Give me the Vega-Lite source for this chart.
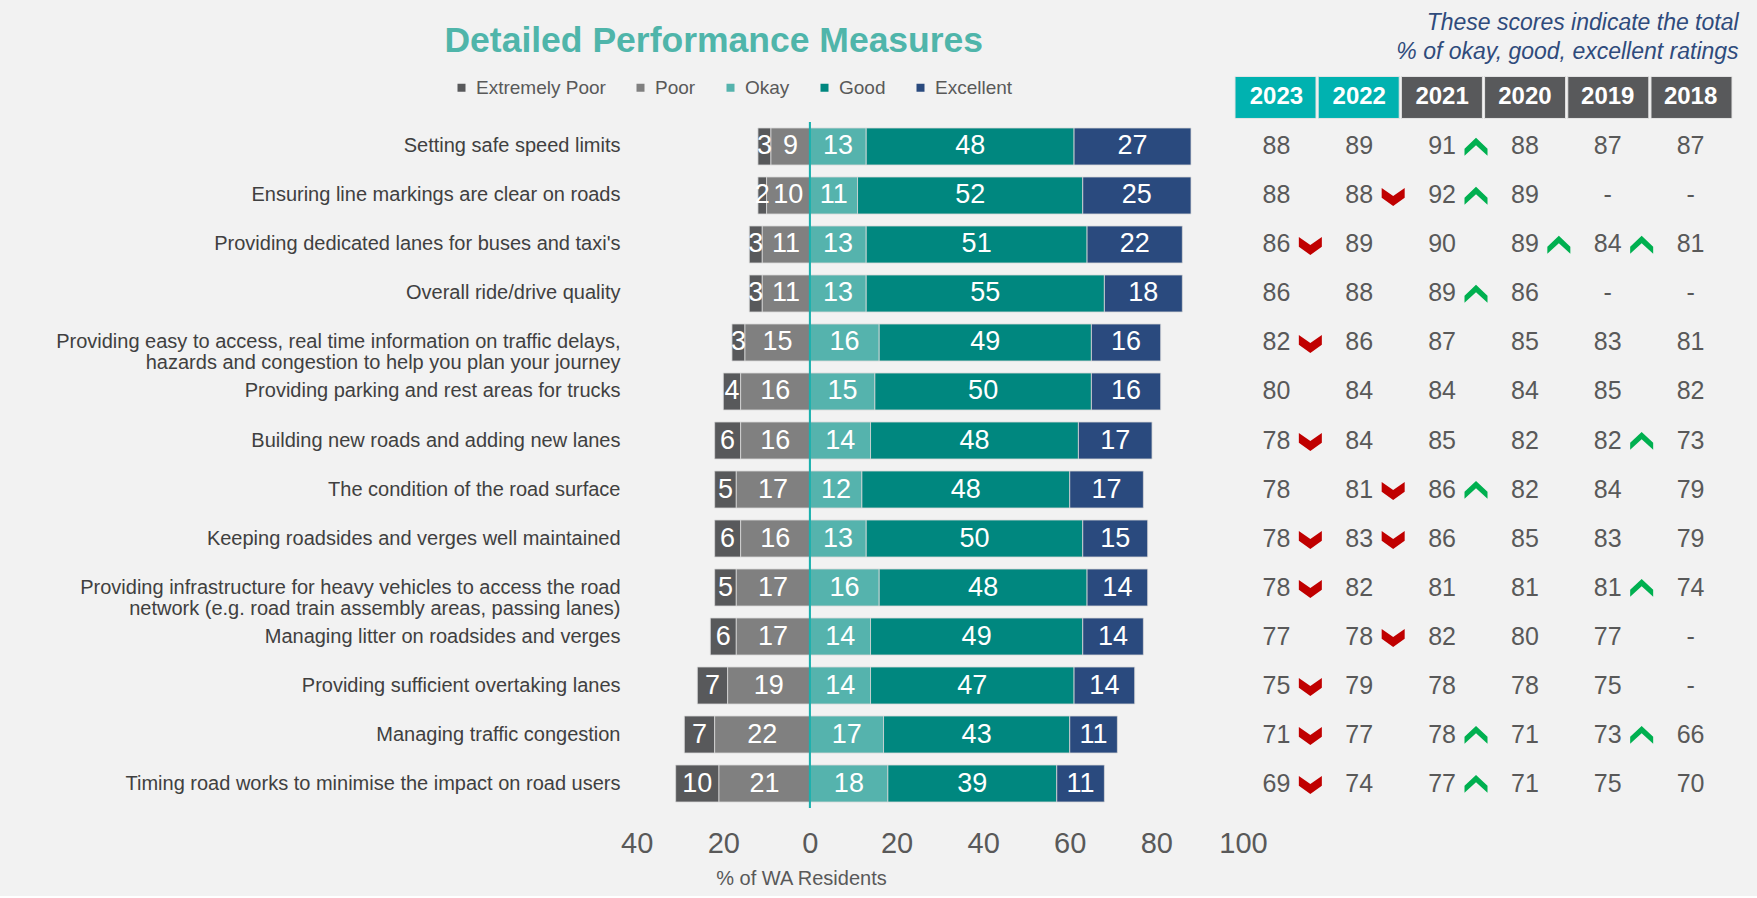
{
  "$schema": "https://vega.github.io/schema/vega-lite/v6.json",
  "width": 1132,
  "height": 832,
  "padding": {"left": 0, "top": 0, "right": 0, "bottom": 8},
  "background": "#F2F2F2",
  "config": {"font": "Liberation Sans", "view": {"stroke": null}, "axis": {"grid": false}},
  "datasets": {
    "items": [
      {"id": "A", "item": "Setting safe speed limits"},
      {"id": "B", "item": "Ensuring line markings are clear on roads"},
      {"id": "C", "item": "Providing dedicated lanes for buses and taxi's"},
      {"id": "D", "item": "Overall ride/drive quality"},
      {"id": "E", "item": "Providing easy to access, real time information on traffic delays,\nhazards and congestion to help you plan your journey"},
      {"id": "F", "item": "Providing parking and rest areas for trucks"},
      {"id": "G", "item": "Building new roads and adding new lanes"},
      {"id": "H", "item": "The condition of the road surface"},
      {"id": "I", "item": "Keeping roadsides and verges well maintained"},
      {"id": "J", "item": "Providing infrastructure for heavy vehicles to access the road\nnetwork (e.g. road train assembly areas, passing lanes)"},
      {"id": "K", "item": "Managing litter on roadsides and verges"},
      {"id": "L", "item": "Providing sufficient overtaking lanes"},
      {"id": "M", "item": "Managing traffic congestion"},
      {"id": "N", "item": "Timing road works to minimise the impact on road users"}
    ],
    "bars": [
      {"id": "A", "level": "Extremely Poor", "pct": -3}, {"id": "A", "level": "Poor", "pct": -9}, {"id": "A", "level": "Okay", "pct": 13}, {"id": "A", "level": "Good", "pct": 48}, {"id": "A", "level": "Excellent", "pct": 27},
      {"id": "B", "level": "Extremely Poor", "pct": -2}, {"id": "B", "level": "Poor", "pct": -10}, {"id": "B", "level": "Okay", "pct": 11}, {"id": "B", "level": "Good", "pct": 52}, {"id": "B", "level": "Excellent", "pct": 25},
      {"id": "C", "level": "Extremely Poor", "pct": -3}, {"id": "C", "level": "Poor", "pct": -11}, {"id": "C", "level": "Okay", "pct": 13}, {"id": "C", "level": "Good", "pct": 51}, {"id": "C", "level": "Excellent", "pct": 22},
      {"id": "D", "level": "Extremely Poor", "pct": -3}, {"id": "D", "level": "Poor", "pct": -11}, {"id": "D", "level": "Okay", "pct": 13}, {"id": "D", "level": "Good", "pct": 55}, {"id": "D", "level": "Excellent", "pct": 18},
      {"id": "E", "level": "Extremely Poor", "pct": -3}, {"id": "E", "level": "Poor", "pct": -15}, {"id": "E", "level": "Okay", "pct": 16}, {"id": "E", "level": "Good", "pct": 49}, {"id": "E", "level": "Excellent", "pct": 16},
      {"id": "F", "level": "Extremely Poor", "pct": -4}, {"id": "F", "level": "Poor", "pct": -16}, {"id": "F", "level": "Okay", "pct": 15}, {"id": "F", "level": "Good", "pct": 50}, {"id": "F", "level": "Excellent", "pct": 16},
      {"id": "G", "level": "Extremely Poor", "pct": -6}, {"id": "G", "level": "Poor", "pct": -16}, {"id": "G", "level": "Okay", "pct": 14}, {"id": "G", "level": "Good", "pct": 48}, {"id": "G", "level": "Excellent", "pct": 17},
      {"id": "H", "level": "Extremely Poor", "pct": -5}, {"id": "H", "level": "Poor", "pct": -17}, {"id": "H", "level": "Okay", "pct": 12}, {"id": "H", "level": "Good", "pct": 48}, {"id": "H", "level": "Excellent", "pct": 17},
      {"id": "I", "level": "Extremely Poor", "pct": -6}, {"id": "I", "level": "Poor", "pct": -16}, {"id": "I", "level": "Okay", "pct": 13}, {"id": "I", "level": "Good", "pct": 50}, {"id": "I", "level": "Excellent", "pct": 15},
      {"id": "J", "level": "Extremely Poor", "pct": -5}, {"id": "J", "level": "Poor", "pct": -17}, {"id": "J", "level": "Okay", "pct": 16}, {"id": "J", "level": "Good", "pct": 48}, {"id": "J", "level": "Excellent", "pct": 14},
      {"id": "K", "level": "Extremely Poor", "pct": -6}, {"id": "K", "level": "Poor", "pct": -17}, {"id": "K", "level": "Okay", "pct": 14}, {"id": "K", "level": "Good", "pct": 49}, {"id": "K", "level": "Excellent", "pct": 14},
      {"id": "L", "level": "Extremely Poor", "pct": -7}, {"id": "L", "level": "Poor", "pct": -19}, {"id": "L", "level": "Okay", "pct": 14}, {"id": "L", "level": "Good", "pct": 47}, {"id": "L", "level": "Excellent", "pct": 14},
      {"id": "M", "level": "Extremely Poor", "pct": -7}, {"id": "M", "level": "Poor", "pct": -22}, {"id": "M", "level": "Okay", "pct": 17}, {"id": "M", "level": "Good", "pct": 43}, {"id": "M", "level": "Excellent", "pct": 11},
      {"id": "N", "level": "Extremely Poor", "pct": -10}, {"id": "N", "level": "Poor", "pct": -21}, {"id": "N", "level": "Okay", "pct": 18}, {"id": "N", "level": "Good", "pct": 39}, {"id": "N", "level": "Excellent", "pct": 11}
    ],
    "table": [
      {"id": "A", "year": 2023, "score": 88}, {"id": "A", "year": 2022, "score": 89}, {"id": "A", "year": 2021, "score": 91, "trend": "up"}, {"id": "A", "year": 2020, "score": 88}, {"id": "A", "year": 2019, "score": 87}, {"id": "A", "year": 2018, "score": 87},
      {"id": "B", "year": 2023, "score": 88}, {"id": "B", "year": 2022, "score": 88, "trend": "down"}, {"id": "B", "year": 2021, "score": 92, "trend": "up"}, {"id": "B", "year": 2020, "score": 89}, {"id": "B", "year": 2019, "score": "-"}, {"id": "B", "year": 2018, "score": "-"},
      {"id": "C", "year": 2023, "score": 86, "trend": "down"}, {"id": "C", "year": 2022, "score": 89}, {"id": "C", "year": 2021, "score": 90}, {"id": "C", "year": 2020, "score": 89, "trend": "up"}, {"id": "C", "year": 2019, "score": 84, "trend": "up"}, {"id": "C", "year": 2018, "score": 81},
      {"id": "D", "year": 2023, "score": 86}, {"id": "D", "year": 2022, "score": 88}, {"id": "D", "year": 2021, "score": 89, "trend": "up"}, {"id": "D", "year": 2020, "score": 86}, {"id": "D", "year": 2019, "score": "-"}, {"id": "D", "year": 2018, "score": "-"},
      {"id": "E", "year": 2023, "score": 82, "trend": "down"}, {"id": "E", "year": 2022, "score": 86}, {"id": "E", "year": 2021, "score": 87}, {"id": "E", "year": 2020, "score": 85}, {"id": "E", "year": 2019, "score": 83}, {"id": "E", "year": 2018, "score": 81},
      {"id": "F", "year": 2023, "score": 80}, {"id": "F", "year": 2022, "score": 84}, {"id": "F", "year": 2021, "score": 84}, {"id": "F", "year": 2020, "score": 84}, {"id": "F", "year": 2019, "score": 85}, {"id": "F", "year": 2018, "score": 82},
      {"id": "G", "year": 2023, "score": 78, "trend": "down"}, {"id": "G", "year": 2022, "score": 84}, {"id": "G", "year": 2021, "score": 85}, {"id": "G", "year": 2020, "score": 82}, {"id": "G", "year": 2019, "score": 82, "trend": "up"}, {"id": "G", "year": 2018, "score": 73},
      {"id": "H", "year": 2023, "score": 78}, {"id": "H", "year": 2022, "score": 81, "trend": "down"}, {"id": "H", "year": 2021, "score": 86, "trend": "up"}, {"id": "H", "year": 2020, "score": 82}, {"id": "H", "year": 2019, "score": 84}, {"id": "H", "year": 2018, "score": 79},
      {"id": "I", "year": 2023, "score": 78, "trend": "down"}, {"id": "I", "year": 2022, "score": 83, "trend": "down"}, {"id": "I", "year": 2021, "score": 86}, {"id": "I", "year": 2020, "score": 85}, {"id": "I", "year": 2019, "score": 83}, {"id": "I", "year": 2018, "score": 79},
      {"id": "J", "year": 2023, "score": 78, "trend": "down"}, {"id": "J", "year": 2022, "score": 82}, {"id": "J", "year": 2021, "score": 81}, {"id": "J", "year": 2020, "score": 81}, {"id": "J", "year": 2019, "score": 81, "trend": "up"}, {"id": "J", "year": 2018, "score": 74},
      {"id": "K", "year": 2023, "score": 77}, {"id": "K", "year": 2022, "score": 78, "trend": "down"}, {"id": "K", "year": 2021, "score": 82}, {"id": "K", "year": 2020, "score": 80}, {"id": "K", "year": 2019, "score": 77}, {"id": "K", "year": 2018, "score": "-"},
      {"id": "L", "year": 2023, "score": 75, "trend": "down"}, {"id": "L", "year": 2022, "score": 79}, {"id": "L", "year": 2021, "score": 78}, {"id": "L", "year": 2020, "score": 78}, {"id": "L", "year": 2019, "score": 75}, {"id": "L", "year": 2018, "score": "-"},
      {"id": "M", "year": 2023, "score": 71, "trend": "down"}, {"id": "M", "year": 2022, "score": 77}, {"id": "M", "year": 2021, "score": 78, "trend": "up"}, {"id": "M", "year": 2020, "score": 71}, {"id": "M", "year": 2019, "score": 73, "trend": "up"}, {"id": "M", "year": 2018, "score": 66},
      {"id": "N", "year": 2023, "score": 69, "trend": "down"}, {"id": "N", "year": 2022, "score": 74}, {"id": "N", "year": 2021, "score": 77, "trend": "up"}, {"id": "N", "year": 2020, "score": 71}, {"id": "N", "year": 2019, "score": 75}, {"id": "N", "year": 2018, "score": 70}
    ]
  },
  "layer": [
    {
      "data": {"name": "bars"},
      "transform": [
        {"lookup": "id", "from": {"data": {"name": "items"}, "key": "id", "fields": ["item"]}},
        {"stack": "pct", "groupby": ["item"], "sort": [{"field": "level", "order": "descending"}], "as": ["x0", "x1"]}
      ],
      "mark": {"type": "bar", "stroke": "#d9d9d9", "strokeWidth": 0.8},
      "encoding": {
        "y": {
          "field": "item", "type": "nominal", "title": null,
          "scale": {
            "domain": ["_t", "_h",
              "Setting safe speed limits",
              "Ensuring line markings are clear on roads",
              "Providing dedicated lanes for buses and taxi's",
              "Overall ride/drive quality",
              "Providing easy to access, real time information on traffic delays,\nhazards and congestion to help you plan your journey",
              "Providing parking and rest areas for trucks",
              "Building new roads and adding new lanes",
              "The condition of the road surface",
              "Keeping roadsides and verges well maintained",
              "Providing infrastructure for heavy vehicles to access the road\nnetwork (e.g. road train assembly areas, passing lanes)",
              "Managing litter on roadsides and verges",
              "Providing sufficient overtaking lanes",
              "Managing traffic congestion",
              "Timing road works to minimise the impact on road users"],
            "paddingInner": 0.245, "paddingOuter": 0.612
          },
          "axis": {
            "title": null, "domain": false, "ticks": false, "labelPadding": 5,
            "labelFontSize": 20, "labelColor": "#404040", "labelLimit": 700, "labelLineHeight": 21,
            "labelExpr": "indexof(datum.value, '_') == 0 ? '' : split(datum.value, '\\n')",
            "minExtent": 625, "maxExtent": 625
          }
        },
        "x": {
          "field": "x0", "type": "quantitative",
          "scale": {"domain": [-42.7, 218.7], "nice": false, "zero": false},
          "axis": {
            "values": [-40, -20, 0, 20, 40, 60, 80, 100], "labelExpr": "abs(datum.value)",
            "domain": false, "ticks": false, "grid": false, "labelFontSize": 29, "labelColor": "#595959",
            "labelPadding": 11, "labelBaseline": "middle", "labelFlush": false, "labelOverlap": false,
            "title": "% of WA Residents", "titleFontSize": 20, "titleFontWeight": "normal", "titleColor": "#595959",
            "titleX": 176, "titleY": 46, "titleBaseline": "middle", "titleAlign": "center"
          }
        },
        "x2": {"field": "x1"},
        "color": {
          "field": "level", "type": "nominal",
          "scale": {"domain": ["Extremely Poor", "Poor", "Okay", "Good", "Excellent"], "range": ["#58595B", "#808080", "#55B3AD", "#00877F", "#2A4A7E"]},
          "legend": {
            "title": null, "orient": "none", "legendX": -173, "legendY": 78, "direction": "horizontal",
            "symbolType": "square", "symbolSize": 64, "symbolStrokeWidth": 0, "labelFontSize": 19,
            "labelColor": "#595959", "labelOffset": 5, "columnPadding": 25, "padding": 0, "labelLimit": 300
          }
        }
      }
    },
    {
      "data": {"name": "bars"},
      "transform": [
        {"lookup": "id", "from": {"data": {"name": "items"}, "key": "id", "fields": ["item"]}},
        {"stack": "pct", "groupby": ["item"], "sort": [{"field": "level", "order": "descending"}], "as": ["x0", "x1"]},
        {"fold": ["x0", "x1"], "as": ["edge", "xv"]},
        {"aggregate": [{"op": "mean", "field": "xv", "as": "xm"}], "groupby": ["item", "level", "pct"]}
      ],
      "mark": {"type": "text", "color": "white", "fontSize": 27, "baseline": "middle", "align": "center", "text": {"expr": "abs(datum.pct)"}},
      "encoding": {
        "y": {"field": "item", "type": "nominal", "title": null},
        "x": {"field": "xm", "type": "quantitative", "scale": {"domain": [-42.7, 218.7], "nice": false, "zero": false}, "axis": null}
      }
    },
    {
      "data": {"name": "bars"},
      "transform": [
        {"lookup": "id", "from": {"data": {"name": "items"}, "key": "id", "fields": ["item"]}},
        {"filter": {"field": "level", "equal": "Okay"}}
      ],
      "mark": {"type": "bar", "color": "#1BB0AD", "height": {"band": 1.324}},
      "encoding": {
        "y": {"field": "item", "type": "nominal", "title": null},
        "x": {"datum": -0.24, "type": "quantitative", "scale": {"domain": [-42.7, 218.7], "nice": false, "zero": false}, "axis": null},
        "x2": {"datum": 0.24}
      }
    },
    {
      "data": {"name": "table"},
      "transform": [{"filter": {"field": "id", "equal": "A"}}],
      "mark": {"type": "bar", "height": {"band": 1.135}, "stroke": "#e4e4e4", "strokeWidth": 1},
      "encoding": {
        "y": {"datum": "_h", "type": "nominal", "title": null},
        "x": {"field": "year", "type": "nominal", "scale": {"domain": [2023, 2022, 2021, 2020, 2019, 2018], "range": [610, 1107], "paddingInner": 0.026, "paddingOuter": 0}, "axis": null},
        "color": {"condition": {"test": "datum.year >= 2022", "value": "#00B2B0"}, "value": "#58595B"}
      }
    },
    {
      "data": {"name": "table"},
      "transform": [{"filter": {"field": "id", "equal": "A"}}],
      "mark": {"type": "text", "color": "white", "fontSize": 24, "fontWeight": "bold", "baseline": "middle"},
      "encoding": {
        "y": {"datum": "_h", "type": "nominal", "title": null},
        "x": {"field": "year", "type": "nominal", "scale": {"domain": [2023, 2022, 2021, 2020, 2019, 2018], "range": [610, 1107], "paddingInner": 0.026, "paddingOuter": 0}, "axis": null},
        "text": {"field": "year", "type": "nominal"}
      }
    },
    {
      "data": {"name": "table"},
      "transform": [{"lookup": "id", "from": {"data": {"name": "items"}, "key": "id", "fields": ["item"]}}],
      "mark": {"type": "text", "color": "#595959", "fontSize": 25, "baseline": "middle"},
      "encoding": {
        "y": {"field": "item", "type": "nominal", "title": null},
        "x": {"field": "year", "type": "nominal", "scale": {"domain": [2023, 2022, 2021, 2020, 2019, 2018], "range": [610, 1107], "paddingInner": 0.026, "paddingOuter": 0}, "axis": null},
        "text": {"field": "score", "type": "nominal"}
      }
    },
    {
      "data": {"name": "table"},
      "transform": [
        {"lookup": "id", "from": {"data": {"name": "items"}, "key": "id", "fields": ["item"]}},
        {"filter": "isValid(datum.trend)"}
      ],
      "mark": {"type": "point", "filled": true, "size": 529, "opacity": 1, "strokeWidth": 0},
      "encoding": {
        "y": {"field": "item", "type": "nominal", "title": null},
        "x": {"field": "year", "type": "nominal", "scale": {"domain": [2023, 2022, 2021, 2020, 2019, 2018], "range": [610, 1107], "paddingInner": 0.026, "paddingOuter": 0}, "axis": null},
        "shape": {"condition": {"test": "datum.trend == 'up'", "value": "M2.95,-0.75L3.95,0.2L3.95,0.8L2.95,-0.1L1.95,0.8L1.95,0.2Z"}, "value": "M1.95,-0.65L2.95,0.05L3.95,-0.65L3.95,0.2L2.95,0.92L1.95,0.2Z"},
        "color": {"condition": {"test": "datum.trend == 'up'", "value": "#00B050"}, "value": "#C00000"}
      }
    },
    {
      "data": {"values": [{}]},
      "mark": {"type": "text", "text": "Detailed Performance Measures", "fontSize": 35.5, "fontWeight": "bold", "color": "#4FB5AA", "baseline": "middle", "align": "center", "dy": -7},
      "encoding": {
        "y": {"datum": "_t", "type": "nominal", "title": null},
        "x": {"datum": -22.2, "type": "quantitative", "scale": {"domain": [-42.7, 218.7], "nice": false, "zero": false}, "axis": null}
      }
    },
    {
      "data": {"values": [{}]},
      "mark": {"type": "text", "text": ["These scores indicate the total", "% of okay, good, excellent ratings"], "fontSize": 23, "fontStyle": "italic", "color": "#2F4B7C", "baseline": "middle", "align": "right", "lineHeight": 29, "dy": -25, "dx": 48},
      "encoding": {
        "y": {"datum": "_t", "type": "nominal", "title": null},
        "x": {"datum": 2018, "type": "nominal", "scale": {"domain": [2023, 2022, 2021, 2020, 2019, 2018], "range": [610, 1107], "paddingInner": 0.026, "paddingOuter": 0}, "axis": null}
      }
    }
  ],
  "resolve": {"scale": {"x": "independent"}, "axis": {"x": "independent"}}
}
